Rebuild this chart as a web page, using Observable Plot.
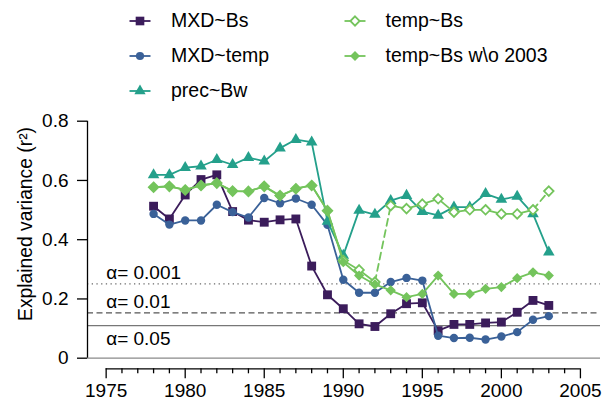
<!DOCTYPE html>
<html><head><meta charset="utf-8">
<script src="https://cdn.jsdelivr.net/npm/d3@7"></script>
<script src="https://cdn.jsdelivr.net/npm/@observablehq/plot@0.6"></script>
<style>
body{margin:0;background:#fff;font-family:"Liberation Sans",Arial,sans-serif;}
#legend{position:relative;width:604px;height:108px;}
.lg-svg{position:absolute;}
.lg-text{position:absolute;font-size:19.5px;line-height:24px;color:#000;white-space:nowrap;}
#chart svg{display:block;}
</style></head>
<body><div id="legend"></div><div id="chart"></div>
<script>
// ---- data ----
const years = [1978,1979,1980,1981,1982,1983,1984,1985,1986,1987,1988,1989,1990,1991,1992,1993,1994,1995,1996,1997,1998,1999,2000,2001,2002,2003];
const mxdBs = [0.513,0.470,0.551,0.603,0.619,0.495,0.466,0.459,0.467,0.470,0.311,0.214,0.167,0.116,0.107,0.150,0.184,0.187,0.093,0.114,0.114,0.119,0.122,0.155,0.195,0.178];
const mxdTemp = [0.487,0.451,0.465,0.465,0.518,0.493,0.475,0.541,0.523,0.539,0.518,0.450,0.265,0.221,0.221,0.257,0.271,0.262,0.076,0.068,0.069,0.063,0.073,0.088,0.130,0.142];
const precBw = [0.619,0.619,0.643,0.648,0.670,0.653,0.677,0.665,0.709,0.738,0.729,0.462,0.347,0.499,0.485,0.532,0.549,0.495,0.482,0.510,0.510,0.555,0.536,0.546,0.487,0.358];
const tempBs = [0.577,0.580,0.568,0.583,0.591,0.564,0.563,0.580,0.549,0.572,0.583,0.498,0.330,0.298,0.257,0.515,0.505,0.520,0.538,0.493,0.501,0.501,0.487,0.487,0.501,0.564];
const tempBsNo2003 = [0.577,0.580,0.568,0.583,0.591,0.564,0.563,0.580,0.547,0.572,0.583,0.498,0.324,0.279,0.249,0.229,0.206,0.217,0.279,0.217,0.217,0.234,0.240,0.270,0.290,0.279];
const seriesNames = ["MXD~Bs","MXD~temp","prec~Bw","temp~Bs","temp~Bs w\\o 2003"];
const tempBsDashedFrom = [1992, 2002];
const yTicks = [0, 0.2, 0.4, 0.6, 0.8];
const xTicks = [1975, 1980, 1985, 1990, 1995, 2000, 2005];
const alphaLabels = ["α= 0.001", "α= 0.01", "α= 0.05"];
const alphaR2 = [0.251, 0.153, 0.110];
const yLabel = "Explained variance (r²)";

// ---- styles ----
const seriesValues = [mxdBs, mxdTemp, precBw, tempBs, tempBsNo2003];
const styles = [
  {color:"#3b1c5b", symbol:"square", r:5.0, filled:true},
  {color:"#3a6198", symbol:"circle", r:4.2, filled:true},
  {color:"#24a08b", symbol:"triangle", r:4.3, filled:true},
  {color:"#74c45c", symbol:"diamond2", r:4.3, filled:false},
  {color:"#74c45c", symbol:"diamond2", r:4.6, filled:true}
];
const d3sym = {square:d3.symbolSquare, circle:d3.symbolCircle, triangle:d3.symbolTriangle, diamond2:d3.symbolDiamond2};

// ---- legend ----
const legend = document.getElementById("legend");
const cols = [{m:139.5, t:171}, {m:354.5, t:385.5}];
const rowsY = [20.7, 55.7, 90.7];
const legendPos = [[0,0],[0,1],[0,2],[1,0],[1,1]];
seriesNames.forEach((name, i) => {
  const st = styles[i];
  const [c, r] = legendPos[i];
  const cx = cols[c].m, cy = rowsY[r];
  const ns = "http://www.w3.org/2000/svg";
  const svg = document.createElementNS(ns, "svg");
  svg.setAttribute("class", "lg-svg");
  svg.setAttribute("width", 28); svg.setAttribute("height", 16);
  svg.style.left = (cx - 14) + "px"; svg.style.top = (cy - 8) + "px";
  const line = document.createElementNS(ns, "line");
  line.setAttribute("x1", 3.5); line.setAttribute("x2", 24.5);
  line.setAttribute("y1", 8); line.setAttribute("y2", 8);
  line.setAttribute("stroke", st.color); line.setAttribute("stroke-width", 1.8);
  svg.appendChild(line);
  const p = document.createElementNS(ns, "path");
  p.setAttribute("d", d3.symbol(d3sym[st.symbol], Math.PI * st.r * st.r * 0.95)());
  p.setAttribute("transform", "translate(14,8)");
  p.setAttribute("fill", st.filled ? st.color : "white");
  p.setAttribute("stroke", st.filled ? "none" : st.color);
  p.setAttribute("stroke-width", st.filled ? 0 : 1.8);
  svg.appendChild(p);
  legend.appendChild(svg);
  const t = document.createElement("div");
  t.className = "lg-text";
  t.textContent = name;
  t.style.left = cols[c].t + "px"; t.style.top = (cy - 12.5) + "px";
  legend.appendChild(t);
});

// ---- chart ----
const rows = seriesNames.map((name, i) => years.map((year, j) => ({series: name, year, value: seriesValues[i][j]})));

// temp~Bs split into solid segments and dashed jumps
let seg = 0;
const tempSolid = rows[3].map((d, j) => {
  if (j > 0 && tempBsDashedFrom.includes(years[j - 1])) seg++;
  return {...d, seg};
});
const tempDashed = tempBsDashedFrom.flatMap((y0, k) => {
  const j = years.indexOf(y0);
  return [{...rows[3][j], seg: k}, {...rows[3][j + 1], seg: k}];
});

const xDomain = [1973.82, 2006.27];
const yDomain = [-0.0358, 0.8];
const font = "Liberation Sans, Arial, sans-serif";

const seriesMarks = [];
rows.forEach((data, i) => {
  const st = styles[i];
  if (i === 3) {
    seriesMarks.push(Plot.line(tempSolid, {x:"year", y:"value", z:"seg", stroke: st.color, strokeWidth: 1.8}));
    seriesMarks.push(Plot.line(tempDashed, {x:"year", y:"value", z:"seg", stroke: st.color, strokeWidth: 1.8, strokeDasharray: "7,4.5"}));
  } else {
    seriesMarks.push(Plot.line(data, {x:"year", y:"value", stroke: st.color, strokeWidth: 1.8}));
  }
  seriesMarks.push(Plot.dot(data, {x:"year", y:"value", symbol: st.symbol, r: st.r,
    fill: st.filled ? st.color : "white", stroke: st.filled ? "none" : st.color, strokeWidth: st.filled ? 0 : 1.8}));
});

const chart = Plot.plot({
  width: 604, height: 293,
  marginLeft: 87, marginRight: 4, marginTop: 12.7, marginBottom: 32.7,
  style: {fontFamily: font, background: "white", overflow: "visible"},
  x: {domain: xDomain, label: null},
  y: {domain: yDomain, label: null},
  marks: [
    Plot.ruleY([0], {stroke: "#8a8a8a", strokeWidth: 1.3}),
    Plot.ruleY([alphaR2[0]], {stroke: "#6a6a6a", strokeWidth: 1.2, strokeDasharray: "1.3,3.4"}),
    Plot.ruleY([alphaR2[1]], {stroke: "#555", strokeWidth: 1.2, strokeDasharray: "6,3.5"}),
    Plot.ruleY([alphaR2[2]], {stroke: "#777", strokeWidth: 1.3}),
    Plot.text(alphaLabels.slice(0, 2), {x: xTicks[0], y: alphaR2.slice(0, 2), text: d => d, textAnchor: "start", dy: -10.5, fontSize: 19, fill: "#000"}),
    Plot.text(alphaLabels.slice(2), {x: xTicks[0], y: alphaR2.slice(2), text: d => d, textAnchor: "start", dy: 13, fontSize: 19, fill: "#000"}),
    Plot.ruleX([xDomain[0]], {y1: 0, y2: 0.8, stroke: "#000", strokeWidth: 1.3}),
    Plot.ruleY([yDomain[0]], {x1: xTicks[0], x2: xTicks[xTicks.length - 1], stroke: "#000", strokeWidth: 1.3}),
    Plot.axisY(yTicks, {tickSize: 10, tickPadding: 9, fontSize: 19, stroke: "#000", strokeWidth: 1.3, tickFormat: d => d === 0 ? "0" : d.toFixed(1), label: null}),
    Plot.axisX(xTicks, {tickSize: 10, tickPadding: 5, fontSize: 19, stroke: "#000", strokeWidth: 1.3, tickFormat: d => String(d), label: null}),
    Plot.axisX(d3.range(xTicks[0], xTicks[xTicks.length - 1] + 1).filter(y => !xTicks.includes(y)), {tickSize: 5, stroke: "#000", strokeWidth: 1.3, tickFormat: () => "", label: null}),
    Plot.text([yLabel], {frameAnchor: "left", textAnchor: "middle", rotate: -90, dx: -62, dy: -21, fontSize: 19.3, fill: "#000", text: d => d}),
    ...seriesMarks
  ]
});
document.getElementById("chart").appendChild(chart);
</script>
</body></html>
